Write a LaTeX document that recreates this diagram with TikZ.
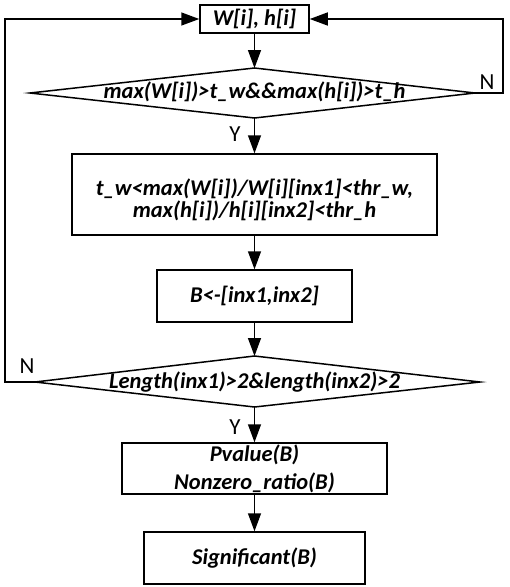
\documentclass[tikz,border=0pt]{standalone}
\usepackage{fontspec}
\setmainfont{Carlito}
\usetikzlibrary{arrows.meta,shapes.geometric}
\begin{document}
\begin{tikzpicture}[x=1pt,y=-1pt,
  every node/.style={font=\fontsize{22.5}{22}\selectfont\bfseries\itshape},
  box/.style={draw,line width=1.5pt,inner sep=0pt},
  lbl/.style={font=\fontsize{23}{24}\selectfont},
  flow/.style={line width=1.5pt,-{Triangle[length=18pt,width=13pt]}},
  dia/.style={line width=1.5pt}]
\useasboundingbox (0,0) rectangle (510,587);
\node[box,minimum width=109pt,minimum height=28pt] (b1) at (254.5,19) {W[i], h[i]};
\draw[dia] (30,93) -- (254.5,68) -- (475,93) -- (254.5,118) -- cycle;
\node (d1) at (254.5,92) {max(W[i])>t\_w\&\&max(h[i])>t\_h};
\coordinate (d1l) at (30,93);
\coordinate (d1r) at (475,93);
\coordinate (d1t) at (254.5,68);
\coordinate (d1b) at (254.5,118);
\node[box,minimum width=365pt,minimum height=81pt,align=center] (b2) at (254.5,194.5) {};
\node[align=center] (b2t) at (254.5,200) {t\_w<max(W[i])/W[i][inx1]<thr\_w,\\max(h[i])/h[i][inx2]<thr\_h};
\node[box,minimum width=195pt,minimum height=52pt] (b3) at (254.5,296) {B<-[inx1,inx2]};
\draw[dia] (35,382) -- (254.5,356) -- (480,382) -- (254.5,407) -- cycle;
\node (d2) at (254.5,382) {Length(inx1)>2\&length(inx2)>2};
\coordinate (d2l) at (35,382);
\coordinate (d2t) at (254.5,356);
\coordinate (d2b) at (254.5,407);
\node[box,minimum width=265pt,minimum height=51pt] (b4) at (254.5,468.5) {};
\node[align=center] (b4t) at (254.5,469) {Pvalue(B)\\[6pt]Nonzero\_ratio(B)};
\node[box,minimum width=221pt,minimum height=52pt] (b5) at (254.5,558) {Significant(B)};
\draw[flow] (b1.south) -- (d1t);
\draw[flow] (d1b) -- (b2.north);
\draw[flow] (b2.south) -- (b3.north);
\draw[flow] (b3.south) -- (d2t);
\draw[flow] (d2b) -- (b4.north);
\draw[flow] (b4.south) -- (b5.north);
\draw[flow] (d1r) -- (503,93) -- (503,19) -- (b1.east);
\draw[flow] (d2l) -- (5,382) -- (5,19) -- (b1.west);
\node[lbl] at (487,82) {N};
\node[lbl] at (27,366) {N};
\node[lbl] at (235,134) {Y};
\node[lbl] at (235,427) {Y};
\end{tikzpicture}
\end{document}
